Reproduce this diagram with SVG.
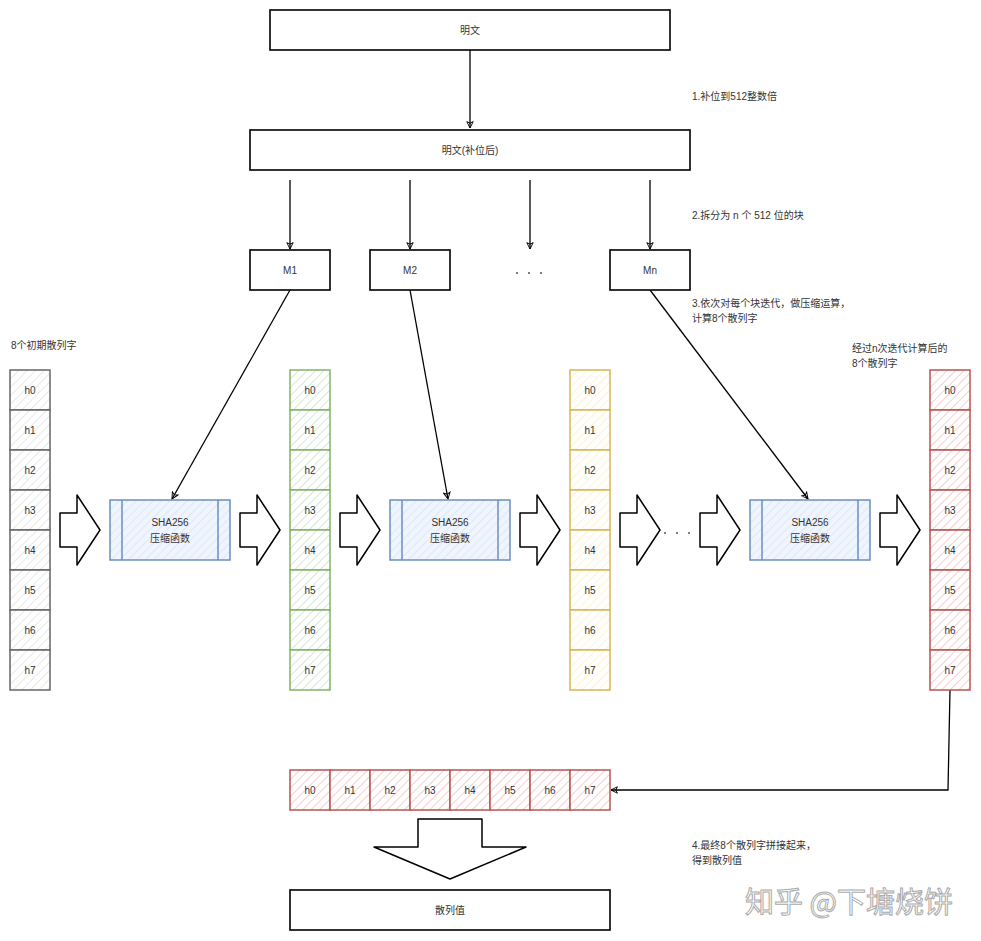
<svg xmlns="http://www.w3.org/2000/svg" width="981" height="941" viewBox="0 0 981 941">
<defs>
<style>
text{font-family:"Liberation Sans","Noto Sans CJK SC",sans-serif;font-size:10px;fill:#333;}
.c{text-anchor:middle;dominant-baseline:central;}
.box{fill:#fff;stroke:#000;stroke-width:1.6;}
.edge{fill:none;stroke:#000;stroke-width:1.3;}
.barr{fill:#fff;stroke:#000;stroke-width:1.5;stroke-linejoin:round;}
.gray{fill:url(#hg);stroke:#666;stroke-width:1.5;}
.green{fill:url(#hgr);stroke:#82b366;stroke-width:1.5;}
.yellow{fill:url(#hy);stroke:#d6b656;stroke-width:1.5;}
.red{fill:url(#hr);stroke:#b85450;stroke-width:1.5;}
.blue{fill:url(#hb);stroke:#6c8ebf;stroke-width:1.5;}
.dot{fill:#555;stroke:none;}
.ann{font-size:10px;}
</style>
<pattern id="hg" width="6" height="6" patternUnits="userSpaceOnUse" patternTransform="rotate(45)"><rect width="6" height="6" fill="#fff"/><line x1="0" y1="0" x2="0" y2="6" stroke="#e8e8e8" stroke-width="2"/></pattern>
<pattern id="hgr" width="6" height="6" patternUnits="userSpaceOnUse" patternTransform="rotate(45)"><rect width="6" height="6" fill="#fff"/><line x1="0" y1="0" x2="0" y2="6" stroke="#d5e8d4" stroke-width="2"/></pattern>
<pattern id="hy" width="6" height="6" patternUnits="userSpaceOnUse" patternTransform="rotate(45)"><rect width="6" height="6" fill="#fff"/><line x1="0" y1="0" x2="0" y2="6" stroke="#fff2cc" stroke-width="2"/></pattern>
<pattern id="hr" width="6" height="6" patternUnits="userSpaceOnUse" patternTransform="rotate(45)"><rect width="6" height="6" fill="#fff"/><line x1="0" y1="0" x2="0" y2="6" stroke="#f8cecc" stroke-width="2"/></pattern>
<pattern id="hb" width="6" height="6" patternUnits="userSpaceOnUse" patternTransform="rotate(45)"><rect width="6" height="6" fill="#f0f5fd"/><line x1="0" y1="0" x2="0" y2="6" stroke="#dae8fc" stroke-width="2"/></pattern>
<marker id="ah" viewBox="0 0 10 10" refX="9" refY="5" markerWidth="8" markerHeight="8" orient="auto" markerUnits="userSpaceOnUse"><path d="M1,1 L9,5 L1,9 L3,5 Z" fill="none" stroke="#000" stroke-width="1.2"/></marker>
<g id="col">
<rect x="0" y="0" width="40" height="40"/><rect x="0" y="40" width="40" height="40"/><rect x="0" y="80" width="40" height="40"/><rect x="0" y="120" width="40" height="40"/><rect x="0" y="160" width="40" height="40"/><rect x="0" y="200" width="40" height="40"/><rect x="0" y="240" width="40" height="40"/><rect x="0" y="280" width="40" height="40"/>
</g>
<path id="rarrow" d="M0,-17 L17,-17 L17,-35 L40,0 L17,35 L17,17 L0,17 Z"/>
</defs>
<rect width="981" height="941" fill="#fff"/>

<g id="connectors">
<line class="edge" x1="470" y1="50" x2="470" y2="128" marker-end="url(#ah)"/>
<line class="edge" x1="290" y1="180" x2="290" y2="249" marker-end="url(#ah)"/>
<line class="edge" x1="410" y1="180" x2="410" y2="249" marker-end="url(#ah)"/>
<line class="edge" x1="530" y1="180" x2="530" y2="249" marker-end="url(#ah)"/>
<line class="edge" x1="650" y1="180" x2="650" y2="249" marker-end="url(#ah)"/>
<line class="edge" x1="290" y1="290" x2="172" y2="499" marker-end="url(#ah)"/>
<line class="edge" x1="410" y1="290" x2="448" y2="499" marker-end="url(#ah)"/>
<line class="edge" x1="650" y1="290" x2="808" y2="499" marker-end="url(#ah)"/>
<polyline class="edge" points="950,690 948,790 611,790" marker-end="url(#ah)"/>
</g>

<g id="plain"><rect class="box" x="270" y="10" width="400" height="40"/><text class="c" x="470" y="30">明文</text></g>
<g id="padded"><rect class="box" x="250" y="130" width="440" height="40"/><text class="c" x="470" y="150">明文(补位后)</text></g>
<g id="m1"><rect class="box" x="250" y="250" width="80" height="40"/><text class="c" x="290" y="270">M1</text></g>
<g id="m2"><rect class="box" x="370" y="250" width="80" height="40"/><text class="c" x="410" y="270">M2</text></g>
<g id="mdots"><circle class="dot" cx="517" cy="273" r="1"/><circle class="dot" cx="529" cy="273" r="1"/><circle class="dot" cx="541" cy="273" r="1"/></g>
<g id="mn"><rect class="box" x="610" y="250" width="80" height="40"/><text class="c" x="650" y="270">Mn</text></g>

<g id="ann1"><text class="ann" x="692" y="100">1.补位到512整数倍</text></g>
<g id="ann2"><text class="ann" x="692" y="219">2.拆分为 n 个 512 位的块</text></g>
<g id="ann3"><text class="ann" x="692" y="307">3.依次对每个块迭代，做压缩运算，</text><text class="ann" x="692" y="322">计算8个散列字</text></g>
<g id="ann0"><text class="ann" x="11" y="349">8个初期散列字</text></g>
<g id="annr"><text class="ann" x="852" y="352">经过n次迭代计算后的</text><text class="ann" x="852" y="367">8个散列字</text></g>
<g id="ann4"><text class="ann" x="692" y="849">4.最终8个散列字拼接起来，</text><text class="ann" x="692" y="864">得到散列值</text></g>

<g id="col0">
<use href="#col" x="10" y="370" class="gray"/>
<text class="c" x="30" y="390">h0</text><text class="c" x="30" y="430">h1</text><text class="c" x="30" y="470">h2</text><text class="c" x="30" y="510">h3</text><text class="c" x="30" y="550">h4</text><text class="c" x="30" y="590">h5</text><text class="c" x="30" y="630">h6</text><text class="c" x="30" y="670">h7</text>
</g>
<g id="col1">
<use href="#col" x="290" y="370" class="green"/>
<text class="c" x="310" y="390">h0</text><text class="c" x="310" y="430">h1</text><text class="c" x="310" y="470">h2</text><text class="c" x="310" y="510">h3</text><text class="c" x="310" y="550">h4</text><text class="c" x="310" y="590">h5</text><text class="c" x="310" y="630">h6</text><text class="c" x="310" y="670">h7</text>
</g>
<g id="col2">
<use href="#col" x="570" y="370" class="yellow"/>
<text class="c" x="590" y="390">h0</text><text class="c" x="590" y="430">h1</text><text class="c" x="590" y="470">h2</text><text class="c" x="590" y="510">h3</text><text class="c" x="590" y="550">h4</text><text class="c" x="590" y="590">h5</text><text class="c" x="590" y="630">h6</text><text class="c" x="590" y="670">h7</text>
</g>
<g id="col3">
<use href="#col" x="930" y="370" class="red"/>
<text class="c" x="950" y="390">h0</text><text class="c" x="950" y="430">h1</text><text class="c" x="950" y="470">h2</text><text class="c" x="950" y="510">h3</text><text class="c" x="950" y="550">h4</text><text class="c" x="950" y="590">h5</text><text class="c" x="950" y="630">h6</text><text class="c" x="950" y="670">h7</text>
</g>

<g id="sha1"><rect class="blue" x="110" y="500" width="120" height="60"/><line class="blue" x1="122" y1="500" x2="122" y2="560"/><line class="blue" x1="218" y1="500" x2="218" y2="560"/><text class="c" x="170" y="522">SHA256</text><text class="c" x="170" y="538">压缩函数</text></g>
<g id="sha2"><rect class="blue" x="390" y="500" width="120" height="60"/><line class="blue" x1="402" y1="500" x2="402" y2="560"/><line class="blue" x1="498" y1="500" x2="498" y2="560"/><text class="c" x="450" y="522">SHA256</text><text class="c" x="450" y="538">压缩函数</text></g>
<g id="sha3"><rect class="blue" x="750" y="500" width="120" height="60"/><line class="blue" x1="762" y1="500" x2="762" y2="560"/><line class="blue" x1="858" y1="500" x2="858" y2="560"/><text class="c" x="810" y="522">SHA256</text><text class="c" x="810" y="538">压缩函数</text></g>

<g id="barrows">
<use href="#rarrow" class="barr" x="60" y="530"/>
<use href="#rarrow" class="barr" x="240" y="530"/>
<use href="#rarrow" class="barr" x="340" y="530"/>
<use href="#rarrow" class="barr" x="520" y="530"/>
<use href="#rarrow" class="barr" x="620" y="530"/>
<use href="#rarrow" class="barr" x="700" y="530"/>
<use href="#rarrow" class="barr" x="880" y="530"/>
</g>
<g id="dots2"><circle class="dot" cx="665" cy="533" r="1"/><circle class="dot" cx="677" cy="533" r="1"/><circle class="dot" cx="689" cy="533" r="1"/></g>

<g id="final">
<rect class="red" x="290" y="770" width="40" height="40"/><rect class="red" x="330" y="770" width="40" height="40"/><rect class="red" x="370" y="770" width="40" height="40"/><rect class="red" x="410" y="770" width="40" height="40"/><rect class="red" x="450" y="770" width="40" height="40"/><rect class="red" x="490" y="770" width="40" height="40"/><rect class="red" x="530" y="770" width="40" height="40"/><rect class="red" x="570" y="770" width="40" height="40"/>
<text class="c" x="310" y="790">h0</text><text class="c" x="350" y="790">h1</text><text class="c" x="390" y="790">h2</text><text class="c" x="430" y="790">h3</text><text class="c" x="470" y="790">h4</text><text class="c" x="510" y="790">h5</text><text class="c" x="550" y="790">h6</text><text class="c" x="590" y="790">h7</text>
</g>
<g id="downarrow"><path class="barr" d="M418,819 L482,819 L482,847 L526,847 L450,879 L374,847 L418,847 Z"/></g>
<g id="hash"><rect class="box" x="290" y="890" width="320" height="40"/><text class="c" x="450" y="910">散列值</text></g>

<g id="watermark"><text x="745" y="913" style="font-family:'Noto Sans CJK SC',sans-serif;font-size:29px;fill:#fff;stroke:#aaa;stroke-width:1;">知乎 @下塘烧饼</text></g>
</svg>
